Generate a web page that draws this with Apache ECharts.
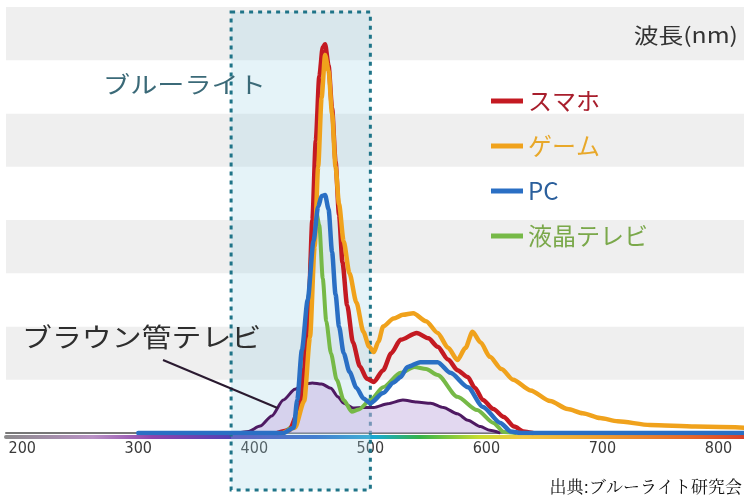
<!DOCTYPE html>
<html><head><meta charset="utf-8">
<script src="https://cdn.jsdelivr.net/npm/echarts@6/dist/echarts.min.js"></script>
<style>html,body{margin:0;padding:0;background:#fff}#c{width:744px;height:500px}</style>
</head><body><div id="c"></div>
<script>
// ---- data ----
const xTicks = [200, 300, 400, 500, 600, 700, 800];
const seriesNames = ['スマホ', 'ゲーム', 'PC', '液晶テレビ'];
const crtName = 'ブラウン管テレビ';
const axisName = '波長(nm)';
const blueLightLabel = 'ブルーライト';
const sourceLabel = '出典:ブルーライト研究会';
const blueLightRange = [380, 500];
const crtPointerTarget = [420, 0.47];

const smartphone = [[420,0],[430,0.05],[438,0.4],[443,1.2],[447,2.5],[450,4.0],[453,5.5],[456,6.7],[459,7.25],[461,7.3],[464,6.9],[467,6.1],[470,5.1],[473,4.1],[476,3.2],[480,2.4],[485,1.7],[491,1.25],[497,1.02],[503,0.96],[511,1.18],[518,1.5],[526,1.75],[540,1.88],[550,1.78],[558,1.62],[567,1.38],[575,1.18],[584,1.05],[590,0.85],[597,0.62],[606,0.45],[615,0.3],[624,0.12],[632,0.03],[640,0]];
const game = [[425,0],[435,0.1],[443,0.6],[448,1.8],[452,3.5],[455,5.0],[458,6.3],[461,7.1],[464,6.8],[467,6.0],[470,5.0],[473,4.3],[477,3.6],[482,3.0],[488,2.45],[494,1.9],[499,1.62],[503,1.52],[507,1.72],[511,2.0],[520,2.15],[528,2.22],[537,2.25],[548,2.1],[558,1.88],[567,1.6],[575,1.37],[582,1.6],[588,1.9],[595,1.7],[603,1.43],[613,1.2],[623,1.0],[638,0.8],[655,0.6],[670,0.45],[683,0.37],[698,0.28],[713,0.22],[741,0.15],[780,0.12],[822,0.1]];
const pc = [[300,0],[425,0],[434,0.1],[437,0.62],[441,1.56],[446,2.5],[451,3.6],[455,4.25],[458,4.45],[461,4.47],[464,4.2],[467,3.4],[470,2.6],[473,2.0],[477,1.5],[482,1.15],[488,0.85],[494,0.65],[500,0.56],[511,0.75],[520,0.95],[526,1.05],[532,1.24],[543,1.33],[558,1.33],[569,1.13],[584,0.86],[597,0.49],[612,0.19],[621,0.03],[630,0],[822,0]];
const lcdTv = [[425,0],[436,0.15],[441,0.62],[444,1.56],[447,2.6],[450,3.7],[453,4.2],[456,3.9],[459,2.9],[462,2.1],[466,1.5],[471,1.0],[477,0.62],[484,0.4],[490,0.44],[500,0.62],[511,0.86],[526,1.13],[538,1.24],[548,1.2],[558,1.09],[575,0.68],[592,0.43],[606,0.19],[615,0.02],[625,0]];
const crtTv = [[385,0],[395,0.03],[405,0.13],[415,0.32],[425,0.62],[435,0.82],[443,0.92],[450,0.94],[458,0.92],[466,0.84],[472,0.68],[477,0.56],[485,0.47],[494,0.48],[503,0.48],[515,0.55],[528,0.62],[540,0.58],[552,0.56],[563,0.48],[575,0.36],[584,0.24],[595,0.12],[603,0.05],[612,0]];

const lineColors = ['#c41a22', '#f0a21c', '#2a6fc4', '#76b947'];
const legendTextColors = ['#a81e2c', '#e8a82a', '#2a5f9c', '#7aa84a'];
const JP = '"Noto Sans CJK JP", "Noto Sans", sans-serif';

const chart = echarts.init(document.getElementById('c'), null, {renderer: 'canvas'});

const rainbow = new echarts.graphic.LinearGradient(0, 0, 1, 0, [
  {offset: 0.00, color: '#8a8a8a'},
  {offset: 0.12, color: '#b890c4'},
  {offset: 0.20, color: '#8e44ad'},
  {offset: 0.32, color: '#4b3fb5'},
  {offset: 0.42, color: '#2160c8'},
  {offset: 0.50, color: '#1aa8d0'},
  {offset: 0.56, color: '#35b34a'},
  {offset: 0.64, color: '#c8dc30'},
  {offset: 0.70, color: '#f4c842'},
  {offset: 0.80, color: '#f0a030'},
  {offset: 0.92, color: '#e86a28'},
  {offset: 1.00, color: '#d8402a'}
]);

function lineSeries(name, data, color, width, z) {
  return {
    name, type: 'line', data, smooth: 0.25, smoothMonotone: 'x',
    symbol: 'none', z,
    lineStyle: {color, width, cap: 'round', join: 'round'},
    itemStyle: {color}
  };
}

chart.setOption({
  animation: false,
  backgroundColor: '#fff',
  grid: {left: 6, right: 0, top: 7, bottom: 67},
  xAxis: [{
    type: 'value', min: 186, max: 822,
    axisLine: {show: true, lineStyle: {color: '#777', width: 2}},
    axisTick: {show: false},
    splitLine: {show: false},
    axisLabel: {customValues: xTicks, color: '#3a3a3a', fontSize: 16, margin: 8, fontFamily: '"DejaVu Sans Condensed", "DejaVu Sans", sans-serif'}
  }, {
    type: 'value', min: 186, max: 822, position: 'bottom', offset: 4,
    axisLine: {show: true, lineStyle: {color: rainbow, width: 4}},
    axisTick: {show: false}, axisLabel: {show: false}, splitLine: {show: false}
  }],
  yAxis: {
    type: 'value', min: 0, max: 8, interval: 1,
    axisLine: {show: false}, axisTick: {show: false}, axisLabel: {show: false},
    splitLine: {show: false},
    splitArea: {show: true, areaStyle: {color: ['#ffffff', '#efefef']}}
  },
  legend: {
    orient: 'vertical', left: 486, top: 84,
    icon: 'rect', itemWidth: 32, itemHeight: 5, itemGap: 21,
    textStyle: {fontSize: 24, fontFamily: JP},
    data: seriesNames.map((n, i) => ({name: n, textStyle: {color: legendTextColors[i]}}))
  },
  series: [
    {
      name: crtName, type: 'line', data: crtTv, smooth: 0.25, smoothMonotone: 'x',
      symbol: 'none', z: 2,
      lineStyle: {color: '#4e1a62', width: 3},
      itemStyle: {color: '#4e1a62'},
      areaStyle: {color: 'rgba(200,180,226,0.75)'}
    },
    lineSeries(seriesNames[3], lcdTv, lineColors[3], 4, 3),
    lineSeries(seriesNames[0], smartphone, lineColors[0], 4.5, 4),
    lineSeries(seriesNames[1], game, lineColors[1], 4.5, 5),
    lineSeries(seriesNames[2], pc, lineColors[2], 4.5, 6)
  ]
});

const x0 = chart.convertToPixel({gridIndex: 0}, [blueLightRange[0], 0])[0];
const x1 = chart.convertToPixel({gridIndex: 0}, [blueLightRange[1], 0])[0];
const tgt = chart.convertToPixel({gridIndex: 0}, crtPointerTarget);
const boxTop = 12, boxBottom = 490;

chart.setOption({
  graphic: [
    {type: 'rect', z: 1, silent: true,
     shape: {x: x0, y: boxTop, width: x1 - x0, height: boxBottom - boxTop},
     style: {fill: 'rgba(160,210,230,0.27)', stroke: '#1f7488', lineWidth: 3, lineDash: [4, 5]}},
    {type: 'text', z: 20, x: 103, y: 84, scaleX: 1.18,
     style: {text: blueLightLabel, fill: '#3b6a78', font: '23px ' + JP, textAlign: 'left', textVerticalAlign: 'middle'}},
    {type: 'text', z: 20, x: 738, y: 35, scaleX: 1.18,
     style: {text: axisName, fill: '#333', font: '21px ' + JP, textAlign: 'right', textVerticalAlign: 'middle'}},
    {type: 'text', z: 20, x: 22, y: 337, scaleX: 1.15,
     style: {text: crtName, fill: '#2e2e2e', font: '26px ' + JP, textAlign: 'left', textVerticalAlign: 'middle'}},
    {type: 'line', z: 20, silent: true,
     shape: {x1: 163, y1: 360, x2: tgt[0], y2: tgt[1]},
     style: {stroke: '#2a1a30', lineWidth: 2}},
    {type: 'text', z: 20, x: 742, y: 487,
     style: {text: sourceLabel, fill: '#111', font: '17px "Noto Serif CJK JP", serif', textAlign: 'right', textVerticalAlign: 'middle'}}
  ]
});
</script></body></html>
